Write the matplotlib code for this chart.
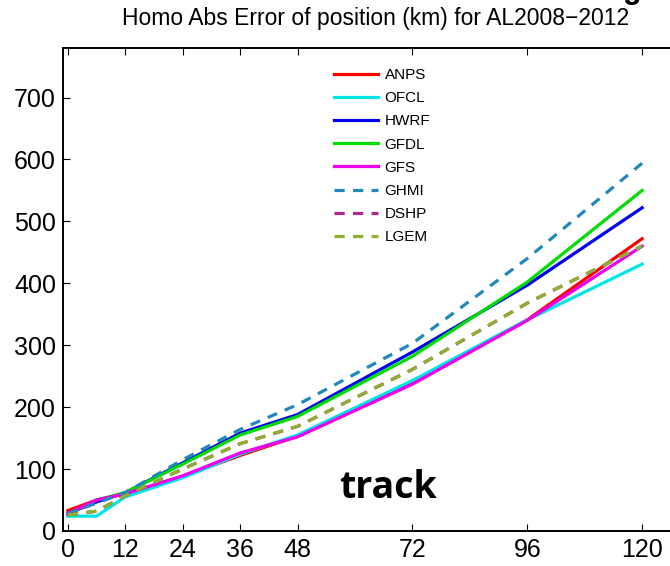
import matplotlib
matplotlib.use("Agg")
import matplotlib.pyplot as plt

hours = [0, 6, 12, 24, 36, 48, 72, 96, 120]
xticks = [0, 12, 24, 36, 48, 72, 96, 120]
yticks = [0, 100, 200, 300, 400, 500, 600, 700]

anps = [33, 50, 60, 88, 122, 153, 241, 341, 472]
ofcl = [24, 24, 55, 86, 124, 155, 243, 341, 431]
hwrf = [28, 47, 62, 110, 158, 188, 289, 397, 522]
gfdl = [27, 50, 62, 108, 155, 185, 282, 402, 550]
gfs = [28, 50, 60, 89, 126, 152, 237, 340, 460]
ghmi = [28, 45, 62, 115, 164, 204, 303, 440, 594]
dshp = [26, 32, 57, 100, 141, 169, 261, 368, 460]
lgem = [26, 32, 57, 100, 141, 169, 261, 368, 460]

plt.rcParams['font.family'] = ['Liberation Sans', 'DejaVu Sans']

fig = plt.figure(figsize=(6.7, 5.66), dpi=100)
W, H = 670, 566
ax = fig.add_axes([63 / W, (H - 531) / H, (690 - 63) / W, (531 - 48) / H])

lw = 2.3
dash = (0, (3.2, 2.6))
ax.plot(hours, anps, color='#ff0000', lw=lw, label='ANPS')
ax.plot(hours, ofcl, color='#00e5e5', lw=lw, label='OFCL')
ax.plot(hours, hwrf, color='#0000ee', lw=lw, label='HWRF')
ax.plot(hours, gfdl, color='#00dd00', lw=lw, label='GFDL')
ax.plot(hours, gfs, color='#ee00ee', lw=lw, label='GFS')
ax.plot(hours, ghmi, color='#2288bb', lw=lw, ls=dash, label='GHMI')
ax.plot(hours, dshp, color='#b0288a', lw=lw, ls=dash, label='DSHP')
ax.plot(hours, lgem, color='#8fb02e', lw=lw, ls=dash, label='LGEM')

ax.set_xlim(-1, 130)
ax.set_ylim(0, 780)
ax.set_xticks(xticks)
ax.set_yticks(yticks)
ax.tick_params(direction='in', length=5, width=0.8, labelsize=18, top=True, right=True, pad=5)
for s in ax.spines.values():
    s.set_linewidth(1.4)

leg = ax.legend(loc='upper left', bbox_to_anchor=((328 - 63) / 627, 1 - (62 - 48) / 483),
                frameon=False, fontsize=11, handlelength=2.9, handletextpad=0.4,
                labelspacing=0.6, borderaxespad=0)

ax.text(67, 69, 'track', fontsize=27, fontweight='bold', family=['Open Sans', 'DejaVu Sans'],
        ha='center', va='center')

fig.text(376 / W, 1 - 18 / H, 'Homo Abs Error of position (km) for AL2008\u22122012',
         fontsize=16.5, ha='center', va='center')
fig.text(632 / W, 1 + 2 / H, 'g', fontsize=22, fontweight='bold', ha='center', va='baseline')

fig.savefig('out.png', dpi=100)
